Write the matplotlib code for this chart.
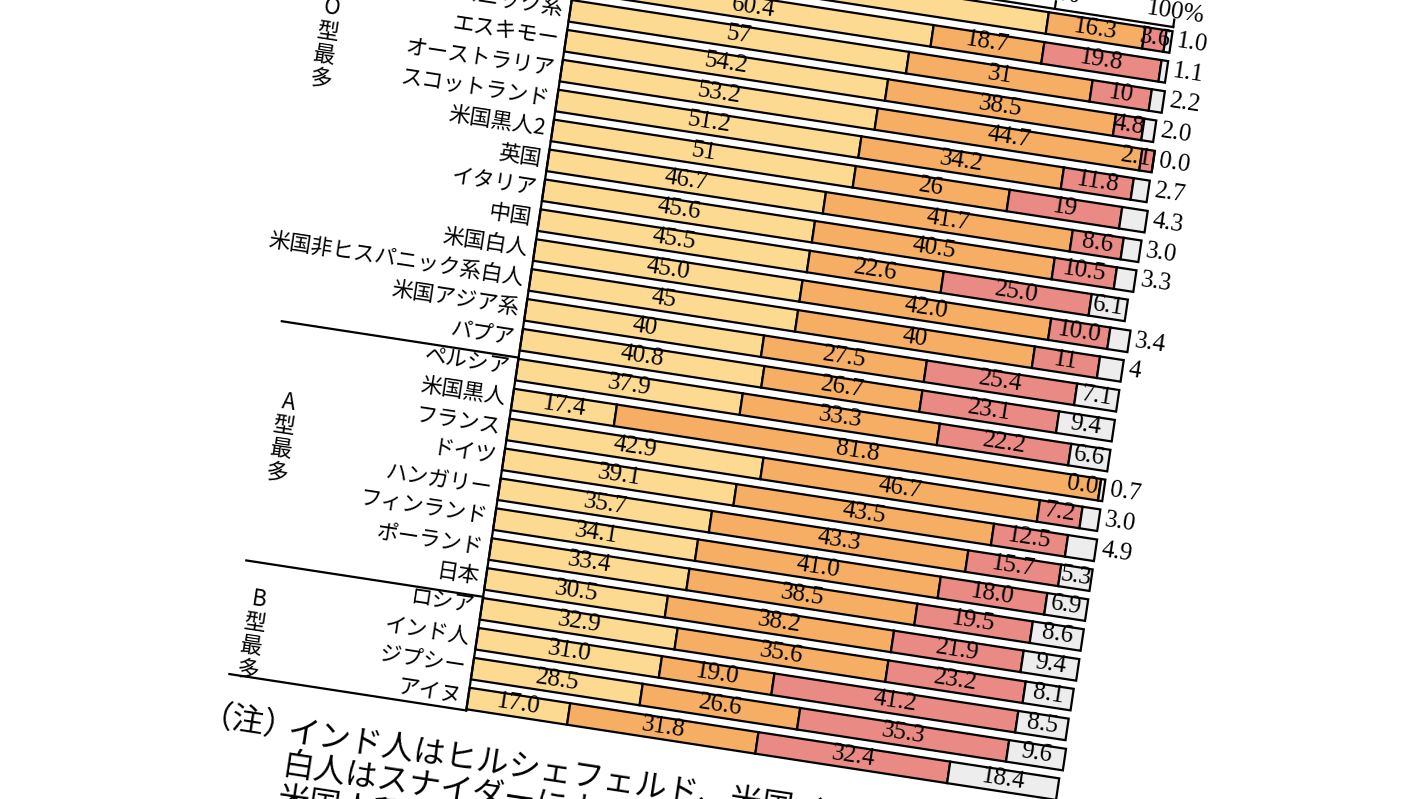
import matplotlib
matplotlib.use("Agg")
import matplotlib.pyplot as plt
from matplotlib.transforms import Affine2D

# 民族別の血液型分布（%）  行0・1は写真の上で切れている
labels = ["", "", "米国ヒスパニック系", "エスキモー", "オーストラリア", "スコットランド",
          "米国黒人2", "英国", "イタリア", "中国", "米国白人", "米国非ヒスパニック系白人",
          "米国アジア系", "パプア", "ペルシア", "米国黒人", "フランス", "ドイツ",
          "ハンガリー", "フィンランド", "ポーランド", "日本", "ロシア", "インド人",
          "ジプシー", "アイヌ"]
type_o = ["79.1", "60.4", "57", "54.2", "53.2", "51.2", "51", "46.7", "45.6", "45.5",
          "45.0", "45", "40", "40.8", "37.9", "17.4", "42.9", "39.1", "35.7", "34.1",
          "33.4", "30.5", "32.9", "31.0", "28.5", "17.0"]
type_a = ["16.3", "18.7", "31", "38.5", "44.7", "34.2", "26", "41.7", "40.5", "22.6",
          "42.0", "40", "27.5", "26.7", "33.3", "81.8", "46.7", "43.5", "43.3", "41.0",
          "38.5", "38.2", "35.6", "19.0", "26.6", "31.8"]
type_b = ["3.6", "19.8", "10", "4.8", "2.1", "11.8", "19", "8.6", "10.5", "25.0",
          "10.0", "11", "25.4", "23.1", "22.2", "0.0", "7.2", "12.5", "15.7", "18.0",
          "19.5", "21.9", "23.2", "41.2", "35.3", "32.4"]
type_ab = ["1.0", "1.1", "2.2", "2.0", "0.0", "2.7", "4.3", "3.0", "3.3", "6.1",
           "3.4", "4", "7.1", "9.4", "6.6", "0.7", "3.0", "4.9", "5.3", "6.9",
           "8.6", "9.4", "8.1", "8.5", "9.6", "18.4"]
groups = ["O\n型\n最\n多", "A\n型\n最\n多", "B\n型\n最\n多"]
ticks = [0, 20, 40, 60, 80, 100]
note = ["インド人はヒルシェフェルド、米国インディアン、",
        "白人はスナイダーによる。",
        "米国人種別"]

colors = ["#FDDA92", "#F5AE63", "#EA8A84", "#EDEDED"]
jp = ["Noto Sans CJK JP", "DejaVu Sans"]
num = ["Liberation Serif", "DejaVu Serif"]

fig = plt.figure(figsize=(14.2, 7.99), dpi=100)
ax = fig.add_axes([0, 0, 1, 1])

# the page is photographed at a tilt: (percent, row) -> pixel
tilt = Affine2D.from_values(5.92, 0.91, -4.44, 29.9, 579, -49)
tr = tilt + ax.transData
rot = -8.7
lw = 1.6

rows = list(range(len(labels)))
left = [0.0] * len(rows)
series = [type_o, type_a, type_b, type_ab]
for k, (ser, col) in enumerate(zip(series, colors)):
    vals = [float(s) for s in ser]
    ax.barh(rows, vals, left=left, height=0.72, color=col, edgecolor="black",
            linewidth=lw, transform=tr)
    for i in rows:
        v = vals[i]
        if k == 3 and v < 5:
            x, ha = left[i] + v + 1.0, "left"
        elif v < 3:
            x, ha = left[i] + v - 0.3, "right"
        else:
            x, ha = left[i] + v / 2, "center"
        ax.text(x, i - 0.05, ser[i], transform=tr, rotation=rot, rotation_mode="anchor",
                ha=ha, va="center", fontsize=18, family=num)
    left = [l + v for l, v in zip(left, vals)]

# row names
for i in rows:
    ax.text(-1.2, i, labels[i], transform=tr, rotation=rot, rotation_mode="anchor",
            ha="right", va="center", fontsize=15.5, family=jp)

# top scale
ax.plot([0, 100], [-0.5, -0.5], color="black", lw=lw, transform=tr)
for t in ticks:
    ax.plot([t, t], [-0.5, -0.75], color="black", lw=lw, transform=tr)
    ax.text(t, -1.0, f"{t}%", transform=tr, rotation=rot, rotation_mode="anchor",
            ha="center", va="center", fontsize=18, family=num)

# frame of the name column and group borders
ax.plot([0, 0], [-0.5, 25.4], color="black", lw=lw, transform=tr)
for r in [13.6, 21.6, 25.4]:
    ax.plot([-40, 0], [r, r], color="black", lw=lw, transform=tr)
for g, (gp, gr) in zip(groups, [(-39.5, 4.3), (-37.0, 17.4), (-37.0, 24.0)]):
    ax.text(gp, gr, g, transform=tr, rotation=rot, rotation_mode="anchor",
            ha="center", va="center", fontsize=16, family=jp, linespacing=1.05)

# note under the chart
ax.text(-35.7, 27.0, "（注）", transform=tr, rotation=rot, rotation_mode="anchor",
        ha="center", va="center", fontsize=23, family=jp)
for j, line in enumerate(note):
    ax.text(-29.0, 27.0 + 1.1 * j, line, transform=tr, rotation=rot,
            rotation_mode="anchor", ha="left", va="center", fontsize=23, family=jp)

ax.set_xlim(0, 1420)
ax.set_ylim(799, 0)
ax.axis("off")
fig.savefig("out.png", dpi=100, facecolor="white")
